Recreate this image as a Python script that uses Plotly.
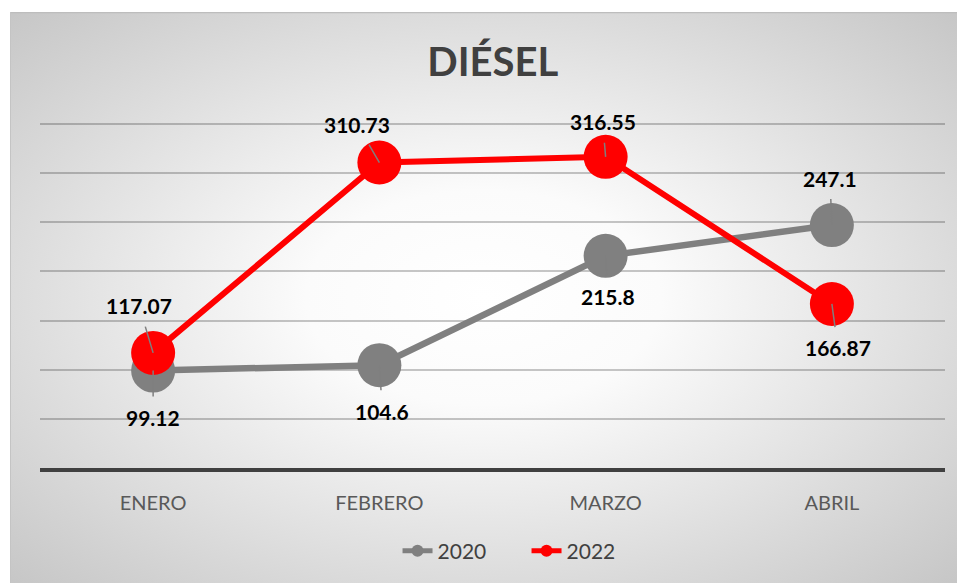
import base64
import plotly.graph_objects as go

# ── Data ─────────────────────────────────────────────────────────────────────
MESES = ["ENERO", "FEBRERO", "MARZO", "ABRIL"]
DIESEL_2020 = [99.12, 104.6, 215.8, 247.1]
DIESEL_2022 = [117.07, 310.73, 316.55, 166.87]

# label offsets (px) relative to each point, Excel-style moved labels
OFF_2020 = [(0, 47), (3, 46), (2, 41), (-2, -47)]
OFF_2022 = [(-14, -47), (-22, -38), (-3, -35), (6, 44)]

GRAY = "#808080"
RED = "#FF0000"
FONT = "Lato, 'Open Sans', sans-serif"

W, H = 957, 583
Y_MAX = 354
L, R, B = 40, 12, 115
PW = W - L - R
PH = round(344 * Y_MAX / 350)
T = H - B - PH

# radial gradient card behind the chart
svg = (
    "<svg xmlns='http://www.w3.org/2000/svg' width='947' height='571'>"
    "<defs><radialGradient id='g' cx='50%' cy='50%' r='75%'>"
    "<stop offset='0' stop-color='#ffffff'/>"
    "<stop offset='0.25' stop-color='#fbfbfb'/>"
    "<stop offset='1' stop-color='#c2c2c2'/>"
    "</radialGradient></defs>"
    "<rect x='0' y='0' width='947' height='571' fill='url(#g)'/>"
    "<line x1='0' y1='0.5' x2='947' y2='0.5' stroke='#bdbdbd' stroke-width='1.5'/>"
    "<line x1='0.5' y1='0' x2='0.5' y2='571' stroke='#c4c4c4' stroke-width='1'/>"
    "</svg>"
)
bg_src = "data:image/svg+xml;base64," + base64.b64encode(svg.encode()).decode()

fig = go.Figure()
fig.add_trace(go.Scatter(
    name="2020", x=MESES, y=DIESEL_2020,
    mode="lines+markers",
    line=dict(color=GRAY, width=6.5),
    marker=dict(size=44, color=GRAY),
    hoverinfo="skip",
))
fig.add_trace(go.Scatter(
    name="2022", x=MESES, y=DIESEL_2022,
    mode="lines+markers",
    line=dict(color=RED, width=6),
    marker=dict(size=44, color=RED),
    hoverinfo="skip",
))

# data labels with leader lines
for vals, offs in ((DIESEL_2020, OFF_2020), (DIESEL_2022, OFF_2022)):
    for mes, v, (dx, dy) in zip(MESES, vals, offs):
        fig.add_annotation(
            x=mes, y=v, xref="x", yref="y",
            text=f"<b>{v:g}</b>",
            showarrow=True, arrowhead=0, arrowwidth=1.5, arrowcolor="#7f7f7f",
            ax=dx, ay=dy, standoff=0, startstandoff=7,
            font=dict(family=FONT, size=21, color="#000000"),
        )

fig.add_layout_image(
    source=bg_src, xref="paper", yref="paper",
    x=(10 - L) / PW, y=(H - B - 12) / PH,
    sizex=(W - 10) / PW, sizey=(H - 12) / PH,
    xanchor="left", yanchor="top", sizing="stretch", layer="below",
)

fig.update_layout(
    width=W, height=H,
    margin=dict(l=L, r=R, t=T, b=B),
    paper_bgcolor="#ffffff",
    plot_bgcolor="rgba(0,0,0,0)",
    font=dict(family=FONT, color="#595959", size=20),
    title=dict(
        text="<b>DIÉSEL</b>", x=0.515, xanchor="center",
        y=1 - 62 / H, yanchor="middle",
        font=dict(family=FONT, size=40, color="#404040"),
    ),
    showlegend=True,
    legend=dict(
        orientation="h", x=0.5376, xanchor="center",
        y=-83 / PH, yanchor="middle",
        bgcolor="rgba(0,0,0,0)", itemsizing="constant",
        entrywidth=84, entrywidthmode="pixels",
        font=dict(family=FONT, size=21, color="#404040"),
    ),
    xaxis=dict(
        type="category", range=[-0.5, 3.5], showgrid=False,
        showline=True, linecolor="#404040", linewidth=4,
        ticks="outside", ticklen=14, tickcolor="rgba(0,0,0,0)",
        tickfont=dict(family=FONT, size=20, color="#595959"),
        fixedrange=True,
    ),
    yaxis=dict(
        range=[0, Y_MAX], dtick=50, showticklabels=False,
        showgrid=True, gridcolor="rgba(0,0,0,0.22)", gridwidth=1.5,
        zeroline=False, fixedrange=True,
    ),
)

fig.write_html(
    "out.html",
    config={"displayModeBar": False},
    post_script="document.body.style.margin='0';",
)
